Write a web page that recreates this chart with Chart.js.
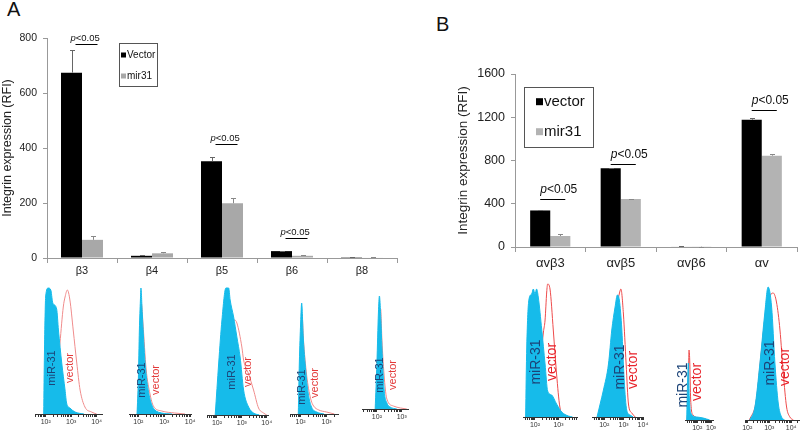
<!DOCTYPE html>
<html>
<head>
<meta charset="utf-8">
<script src="https://cdn.jsdelivr.net/npm/chart.js@4/dist/chart.umd.min.js"></script>
<style>
  body { margin: 0; width: 800px; height: 436px; overflow: hidden; background: #fff; position: relative; font-family: "Liberation Sans", Arial, sans-serif; }
  canvas { position: absolute; }
  .letter { position: absolute; font-size: 20px; color: #111; }
</style>
</head>
<body>
<div class="letter" style="left:7px;top:-2px">A</div>
<div class="letter" style="left:436px;top:13px">B</div>
<canvas id="barsA" width="400" height="285" style="left:0;top:0"></canvas>
<canvas id="barsB" width="400" height="260" style="left:400px;top:30px"></canvas>
<script>
const FAM = '"Liberation Sans", Arial, sans-serif';

// panel A bars
const catsA = ['β3', 'β4', 'β5', 'β6', 'β8'];
const vectorA = [674, 8, 352, 25, 3];
const vectorErrA = [83, 3, 16, 2, 1];
const mirA = [66, 17, 199, 8, 2];
const mirErrA = [14, 5, 19, 2, 1];
const sigIdxA = [0, 2, 3];
const sigLevelA = [777, 414, 74];
const ticksA = [0, 200, 400, 600, 800];

// panel B bars
const catsB = ['αvβ3', 'αvβ5', 'αvβ6', 'αv'];
const vectorB = [338, 728, 5, 1177];
const vectorErrB = [6, 6, 1, 18];
const mirB = [102, 443, 3, 845];
const mirErrB = [20, 5, 1, 17];
const sigIdxB = [0, 1, 3];
const sigLevelB = [443, 768, 1269];
const ticksB = [0, 400, 800, 1200, 1600];

// flow histograms: [log10 intensity, count]
const a1Mir = [[1.92,0],[1.95,60],[2.0,118],[2.1,126],[2.2,124],[2.27,112],[2.3,110],[2.43,105],[2.5,84],[2.63,51],[2.76,24],[2.82,11],[2.95,6],[3.15,2],[3.5,0]];
const a1Vec = [[1.95,0],[2.2,12],[2.45,40],[2.56,71],[2.69,107],[2.76,117],[2.85,124],[2.95,114],[3.08,84],[3.22,51],[3.35,24],[3.54,7],[3.8,2],[4.0,0]];
const a2Mir = [[1.95,0],[2.0,34],[2.04,84],[2.08,114],[2.1,126],[2.15,101],[2.26,51],[2.38,24],[2.52,9],[2.64,4],[2.9,1],[3.3,0]];
const a2Vec = [[1.97,0],[2.05,60],[2.12,110],[2.18,90],[2.3,45],[2.45,20],[2.58,8],[2.9,3],[3.4,1],[3.8,0]];
const a3Mir = [[1.93,0],[2.07,52],[2.2,95],[2.36,127],[2.47,127],[2.53,115],[2.67,98],[2.8,78],[2.93,58],[3.07,25],[3.27,8],[3.47,2],[3.7,0]];
const a3Vec = [[1.95,0],[2.2,40],[2.45,80],[2.6,92],[2.71,95],[2.8,92],[3.0,68],[3.07,55],[3.27,41],[3.47,25],[3.67,7],[3.87,2],[4.0,0]];
const a4Mir = [[1.91,0],[1.95,51],[2.0,91],[2.04,111],[2.1,77],[2.17,51],[2.29,21],[2.42,7],[2.62,2],[2.9,0]];
const a4Vec = [[1.93,0],[2.0,60],[2.05,100],[2.12,70],[2.25,35],[2.4,14],[2.5,8],[2.7,4],[3.0,2],[3.3,0]];
const a5Mir = [[1.93,0],[2.0,46],[2.06,96],[2.1,113],[2.16,89],[2.2,62],[2.29,19],[2.4,6],[2.53,2],[2.8,0]];
const a5Vec = [[1.95,0],[2.03,50],[2.1,95],[2.15,100],[2.2,70],[2.3,30],[2.4,10],[2.66,3],[2.95,1],[3.2,0]];
const b1Mir = [[1.6,0],[1.65,70],[1.74,117],[1.86,123],[1.93,128],[2.0,123],[2.07,128],[2.14,120],[2.29,87],[2.43,53],[2.54,26],[2.71,22],[2.92,13],[3.14,5],[3.42,1],[3.6,0]];
const b1Vec = [[1.7,0],[2.0,20],[2.2,50],[2.36,85],[2.43,97],[2.5,125],[2.54,133],[2.64,128],[2.78,87],[2.92,43],[3.06,10],[3.2,2],[3.4,0]];
const b2Mir = [[1.63,0],[1.79,13],[1.96,27],[2.22,53],[2.39,87],[2.56,110],[2.68,122],[2.78,117],[2.91,87],[3.03,37],[3.16,7],[3.33,2],[3.5,0]];
const b2Vec = [[1.7,0],[2.0,20],[2.3,60],[2.6,105],[2.8,125],[2.86,128],[2.99,103],[3.13,53],[3.25,13],[3.42,4],[3.6,0]];
const b3Mir = [[1.24,0],[1.31,40],[1.36,57],[1.43,23],[1.53,7],[1.96,3],[2.43,2],[2.9,0]];
const b3Vec = [[1.28,0],[1.36,30],[1.41,70],[1.46,60],[1.53,20],[1.7,5],[2.2,2],[2.8,0]];
const b4Mir = [[2.12,0],[2.35,13],[2.58,57],[2.8,107],[2.95,133],[3.11,113],[3.26,57],[3.41,17],[3.56,3],[3.7,0]];
const b4Vec = [[2.1,0],[2.4,18],[2.65,70],[2.9,118],[3.05,125],[3.18,127],[3.33,118],[3.49,90],[3.64,47],[3.79,13],[3.94,3],[4.1,0]];

const errorBars = {
  id: 'errorBars',
  afterDatasetsDraw(chart) {
    const ctx = chart.ctx, y = chart.scales.y;
    chart.data.datasets.forEach((ds, d) => {
      chart.getDatasetMeta(d).data.forEach((bar, i) => {
        const x = Math.round(bar.x) + 0.5;
        const top = Math.round(y.getPixelForValue(ds.data[i] + ds.errors[i])) + 0.5;
        ctx.save();
        ctx.strokeStyle = ds.errColor;
        ctx.lineWidth = 1;
        ctx.beginPath();
        ctx.moveTo(x, bar.y);
        ctx.lineTo(x, top);
        ctx.moveTo(x - 2.5, top);
        ctx.lineTo(x + 2.5, top);
        ctx.stroke();
        ctx.restore();
      });
    });
  }
};

const sigMarks = {
  id: 'sigMarks',
  afterDatasetsDraw(chart, args, o) {
    const ctx = chart.ctx, y = chart.scales.y;
    const m0 = chart.getDatasetMeta(0), m1 = chart.getDatasetMeta(1);
    o.idx.forEach((i, k) => {
      const ly = Math.round(y.getPixelForValue(o.level[k])) + 0.5;
      const x0 = m0.data[i].x + o.startDx, x1 = m1.data[i].x + o.endDx;
      ctx.save();
      ctx.strokeStyle = '#000';
      ctx.lineWidth = 1;
      ctx.beginPath();
      ctx.moveTo(x0, ly);
      ctx.lineTo(x1, ly);
      ctx.stroke();
      ctx.fillStyle = '#111';
      ctx.textBaseline = 'alphabetic';
      ctx.font = 'italic ' + o.size + 'px ' + FAM;
      const tx = x0 + o.textDx;
      ctx.fillText('p', tx, ly - o.gap);
      const w = ctx.measureText('p').width;
      ctx.font = o.size + 'px ' + FAM;
      ctx.fillText('<0.05', tx + w, ly - o.gap);
      ctx.restore();
    });
  }
};

const boxLegend = {
  id: 'boxLegend',
  afterDraw(chart, args, o) {
    const ctx = chart.ctx;
    ctx.save();
    ctx.strokeStyle = '#555';
    ctx.lineWidth = 1;
    ctx.strokeRect(o.x + 0.5, o.y + 0.5, o.w, o.h);
    chart.data.datasets.forEach((ds, d) => {
      const cy = o.rows[d];
      ctx.fillStyle = ds.backgroundColor;
      ctx.fillRect(o.sqX, cy - o.sq / 2, o.sq, o.sq);
      ctx.fillStyle = '#111';
      ctx.font = o.size + 'px ' + FAM;
      ctx.textBaseline = 'middle';
      ctx.fillText(ds.label, o.textX, cy);
    });
    ctx.restore();
  }
};

function barChart(id, cats, series, cfg) {
  return new Chart(document.getElementById(id), {
    type: 'bar',
    data: { labels: cats, datasets: series },
    options: {
      responsive: false,
      animation: false,
      layout: { padding: cfg.padding },
      datasets: { bar: { barPercentage: 1, categoryPercentage: cfg.catPct } },
      plugins: {
        legend: { display: false },
        tooltip: { enabled: false },
        sigMarks: cfg.sig,
        boxLegend: cfg.legend
      },
      scales: {
        x: {
          grid: { drawOnChartArea: false, tickLength: 5, color: '#999' },
          border: { color: '#999' },
          ticks: { font: { family: FAM, size: cfg.xFont }, color: '#222', padding: cfg.xPad },
          afterFit: s => { s.height = cfg.xHeight; }
        },
        y: {
          min: 0,
          max: cfg.ticks[cfg.ticks.length - 1],
          afterBuildTicks: s => { s.ticks = cfg.ticks.map(v => ({ value: v })); },
          grid: { drawOnChartArea: false, tickLength: 4, color: '#999' },
          border: { color: '#999' },
          ticks: { font: { family: FAM, size: cfg.yFont }, color: '#222', padding: 6, callback: v => String(v) },
          title: { display: true, text: 'Integrin expression (RFI)', font: { family: FAM, size: cfg.titleFont }, color: '#222', padding: 0 },
          afterFit: s => { s.width = cfg.yWidth; }
        }
      }
    },
    plugins: [errorBars, sigMarks, boxLegend]
  });
}

barChart('barsA', catsA, [
  { label: 'Vector', data: vectorA, errors: vectorErrA, backgroundColor: '#000', errColor: '#666' },
  { label: 'mir31', data: mirA, errors: mirErrA, backgroundColor: '#a8a8a8', errColor: '#888' }
], {
  padding: { left: 0, top: 38, right: 3, bottom: 0 },
  catPct: 0.6, xFont: 11, xPad: 1, xHeight: 27, yFont: 10.5, titleFont: 12.5, yWidth: 47, ticks: ticksA,
  sig: { idx: sigIdxA, level: sigLevelA, startDx: 4, endDx: 5, textDx: -5, gap: 4, size: 9.5 },
  legend: { x: 119, y: 43, w: 38, h: 43, rows: [55, 76], sqX: 121, sq: 5, textX: 127, size: 10 }
});

barChart('barsB', catsB, [
  { label: 'vector', data: vectorB, errors: vectorErrB, backgroundColor: '#000', errColor: '#666' },
  { label: 'mir31', data: mirB, errors: mirErrB, backgroundColor: '#b3b3b3', errColor: '#888' }
], {
  padding: { left: 55, top: 44, right: 3, bottom: 0 },
  catPct: 0.57, xFont: 13, xPad: 4, xHeight: 43, yFont: 12.5, titleFont: 13.5, yWidth: 60, ticks: ticksB,
  sig: { idx: sigIdxB, level: sigLevelB, startDx: 0, endDx: 5, textDx: 0, gap: 7, size: 12 },
  legend: { x: 124, y: 57, w: 69, h: 60, rows: [71.7, 101.7], sqX: 136, sq: 7, textX: 144, size: 15 }
});

// histograms
const SUP = { 1: '¹', 2: '²', 3: '³', 4: '⁴' };
const panels = [
  { left: 35, right: 102, base: 414, min: 1.58, max: 4.21, mir: a1Mir, vec: a1Vec, mirAt: [2.24, 46], vecAt: [2.95, 46], big: false },
  { left: 129, right: 191, base: 414, min: 1.64, max: 4.03, mir: a2Mir, vec: a2Vec, mirAt: [2.15, 34], vecAt: [2.67, 34], big: false },
  { left: 207, right: 268, base: 415, min: 1.6, max: 4.05, mir: a3Mir, vec: a3Vec, mirAt: [2.6, 43], vecAt: [3.26, 43], big: false },
  { left: 290, right: 338, base: 414, min: 1.59, max: 3.44, mir: a4Mir, vec: a4Vec, mirAt: [2.04, 27], vecAt: [2.55, 31], big: false },
  { left: 362, right: 408, base: 409, min: 1.4, max: 3.25, mir: a5Mir, vec: a5Vec, mirAt: [2.13, 34], vecAt: [2.66, 34], big: false },
  { left: 523, right: 577, base: 417, min: 1.49, max: 3.79, mir: b1Mir, vec: b1Vec, mirAt: [2.07, 55], vecAt: [2.71, 55], big: true },
  { left: 592, right: 643, base: 417, min: 1.37, max: 4.0, mir: b2Mir, vec: b2Vec, mirAt: [2.82, 50], vecAt: [3.5, 47], big: true },
  { left: 685, right: 713, base: 420, min: 1.12, max: 3.14, mir: b3Mir, vec: b3Vec, mirAt: [1.0, 35], vecAt: [1.96, 38], big: true },
  { left: 745, right: 800, base: 420, min: 1.9, max: 4.4, mir: b4Mir, vec: b4Vec, mirAt: [3.03, 57], vecAt: [3.71, 53], big: true }
];

const histLabels = {
  id: 'histLabels',
  afterDraw(chart, args, o) {
    const ctx = chart.ctx, xs = chart.scales.x, ys = chart.scales.y;
    [[o.mirAt, 'miR-31', '#1c4478'], [o.vecAt, 'vector', o.red]].forEach(([at, txt, col]) => {
      ctx.save();
      ctx.translate(xs.getPixelForValue(at[0]), ys.getPixelForValue(at[1]));
      ctx.rotate(-Math.PI / 2);
      ctx.font = o.size + 'px ' + FAM;
      ctx.fillStyle = col;
      ctx.textAlign = 'center';
      ctx.textBaseline = 'middle';
      ctx.fillText(txt, 0, 0);
      ctx.restore();
    });
  }
};

panels.forEach(p => {
  const pad = 14, H = 140;
  const cv = document.createElement('canvas');
  cv.width = p.right - p.left + 2 * pad;
  cv.height = H + 20;
  cv.style.left = (p.left - pad) + 'px';
  cv.style.top = (p.base - H) + 'px';
  document.body.appendChild(cv);
  const red = p.big ? '#ee4b4b' : '#f08c8c';
  new Chart(cv, {
    type: 'line',
    data: {
      datasets: [
        { data: p.mir.map(([x, y]) => ({ x, y })), borderColor: '#16bbea', backgroundColor: '#16bbea', borderWidth: 1, fill: 'origin', pointRadius: 0, cubicInterpolationMode: 'monotone', order: 0 },
        { data: p.vec.map(([x, y]) => ({ x, y })), borderColor: red, borderWidth: 1, fill: false, pointRadius: 0, cubicInterpolationMode: 'monotone', order: 1 }
      ]
    },
    options: {
      responsive: false,
      animation: false,
      layout: { padding: { left: pad, right: pad, top: 0, bottom: 0 } },
      plugins: {
        legend: { display: false },
        tooltip: { enabled: false },
        histLabels: { mirAt: p.mirAt, vecAt: p.vecAt, size: p.big ? 14 : 11, red: p.big ? '#e8232b' : '#e33a3a' }
      },
      scales: {
        x: {
          type: 'linear',
          min: p.min,
          max: p.max,
          afterBuildTicks: s => {
            const t = [];
            for (let n = Math.floor(s.min); n <= Math.ceil(s.max); n++) {
              for (let k = 1; k < 10; k++) {
                const v = n + Math.log10(k);
                if (v >= s.min && v <= s.max) t.push({ value: v });
              }
            }
            s.ticks = t;
          },
          grid: { drawOnChartArea: false, tickLength: 3, color: '#333' },
          border: { color: '#333' },
          ticks: {
            autoSkip: false, maxRotation: 0, padding: 1,
            font: { family: FAM, size: 7 }, color: '#333',
            callback: v => Number.isInteger(v) ? '10' + SUP[v] : ''
          },
          afterFit: s => { s.height = 20; }
        },
        y: { display: false, min: 0, max: H }
      }
    },
    plugins: [histLabels]
  });
});
</script>
</body>
</html>
